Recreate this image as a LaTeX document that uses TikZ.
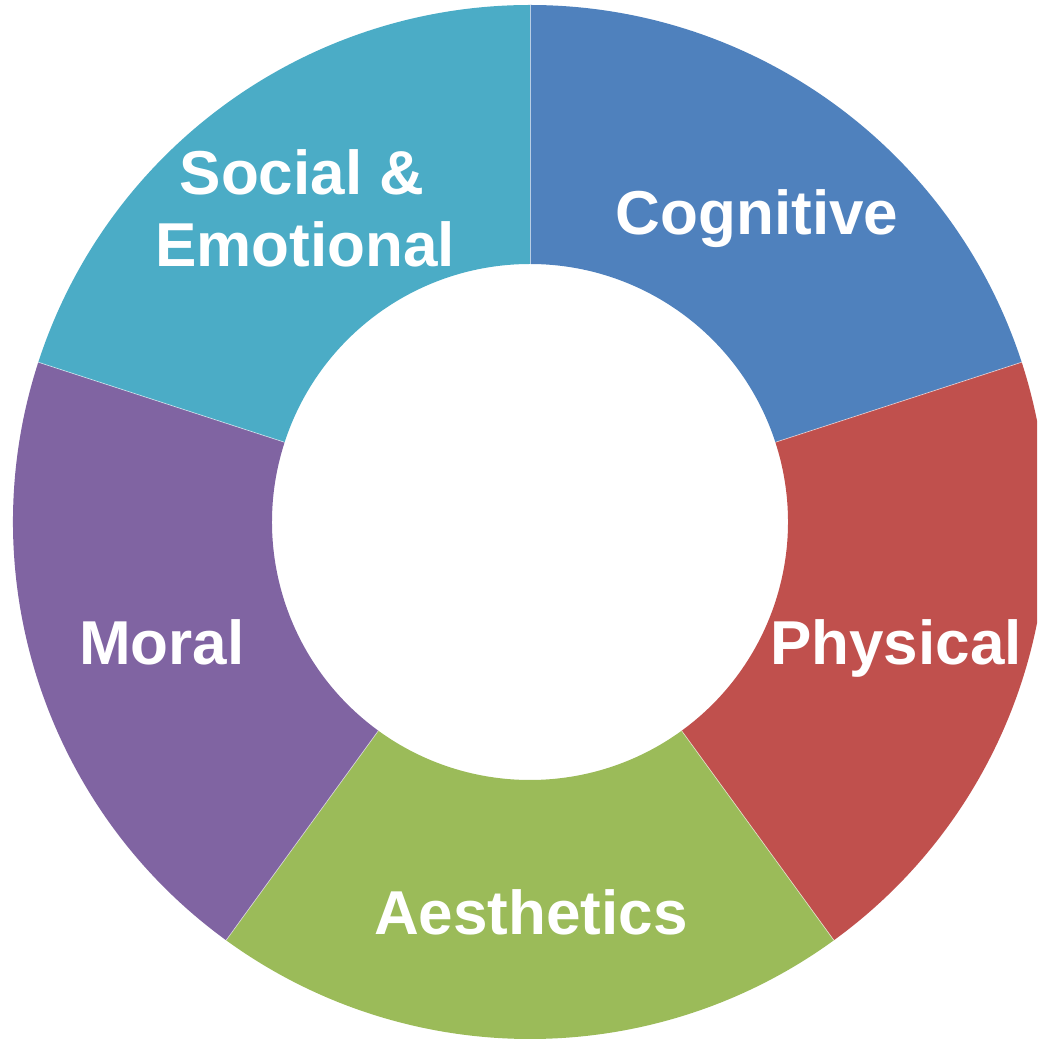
\documentclass[tikz,border=0pt]{standalone}
\usepackage{fontspec}
\setmainfont{Liberation Sans}
\usetikzlibrary{calc}
\definecolor{cogblue}{HTML}{4F81BD}
\definecolor{phyred}{HTML}{C0504D}
\definecolor{aesgreen}{HTML}{9BBB59}
\definecolor{morpurple}{HTML}{8064A2}
\definecolor{socteal}{HTML}{4BACC6}
\begin{document}
\begin{tikzpicture}[x=1pt,y=1pt,
  lbl/.style={text=white,font=\fontsize{62}{70}\selectfont\bfseries,anchor=base,inner sep=0pt},
  sep/.style={draw=white,line width=0.7pt,opacity=0.6}]
\clip (0,0) rectangle (1037,1042);
\useasboundingbox (0,0) rectangle (1037,1042);
\coordinate (c) at (530,520);
\def\Ro{517}
\def\Ri{258}
\foreach \a/\b/\col in {18/90/cogblue, -54/18/phyred, -126/-54/aesgreen, -198/-126/morpurple, -270/-198/socteal}{
  \fill[\col] ($(c)+(\a:\Ro)$) arc[start angle=\a, end angle=\b, radius=\Ro]
     -- ($(c)+(\b:\Ri)$) arc[start angle=\b, end angle=\a, radius=\Ri] -- cycle;
}
\foreach \a in {90,18,-54,-126,162}{
  \draw[sep] ($(c)+(\a:\Ri)$) -- ($(c)+(\a:\Ro)$);
}
\node[lbl] (cog) at (757,807) {Cognitive};
\node[lbl] (phy) at (896,377) {Physical};
\node[lbl] (aes) at (531,107) {Aesthetics};
\node[lbl] (mor) at (162,377) {Moral};
\node[lbl] (soc1) at (302,847) {Social \&};
\node[lbl] (soc2) at (305,775) {Emotional};
\end{tikzpicture}
\end{document}
